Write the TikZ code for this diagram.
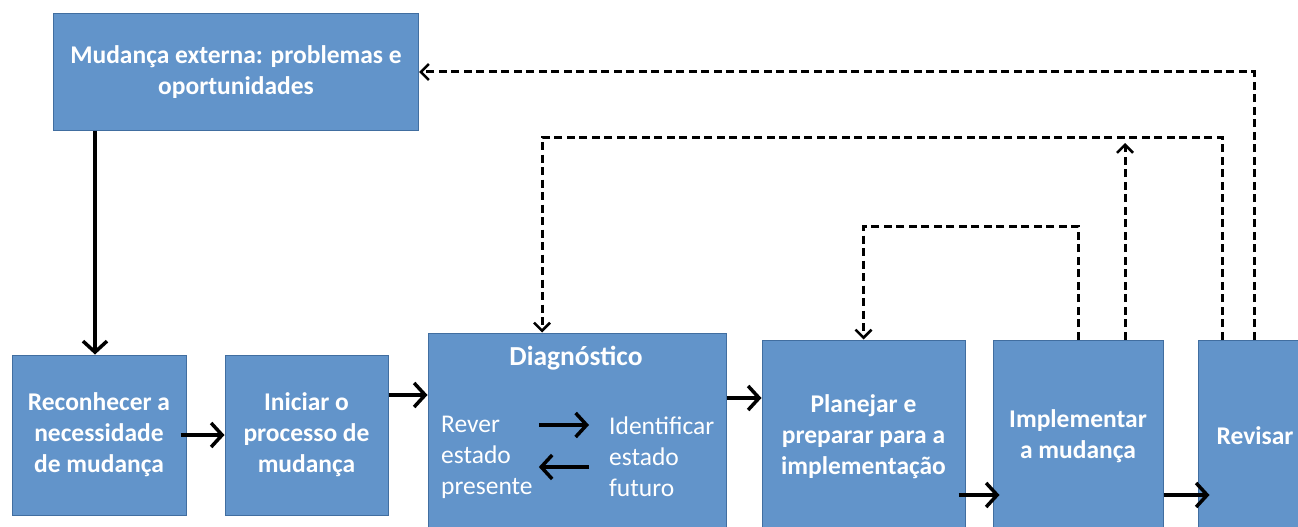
\documentclass[tikz,border=0pt]{standalone}
\usepackage{fontspec}
\setmainfont{Carlito}
\usetikzlibrary{arrows.meta}
\definecolor{boxfill}{RGB}{98,148,202}
\definecolor{boxline}{RGB}{65,110,160}
\tikzset{
  box/.style={draw=boxline, line width=1pt, fill=boxfill, text=white, font=\bfseries\fontsize{25.5}{31}\selectfont, align=center, inner sep=0pt},
  boxtext/.style={text=white, font=\bfseries\fontsize{25.5}{31}\selectfont, align=center, inner sep=0pt},
  inner/.style={text=white, font=\fontsize{25.5}{31}\selectfont, align=left, inner sep=0pt, anchor=west},
  sarrow/.style={line width=3.5pt, -{Straight Barb[length=11pt,width=24pt,line width=3.5pt]}},
  darrow/.style={line width=3pt, dash pattern=on 8pt off 4.5pt, -{Straight Barb[length=8pt,width=16pt,line width=2.5pt]}}
}
\begin{document}
\begin{tikzpicture}[x=1pt,y=-1pt]
\clip (0,0) rectangle (1298,527);
\fill[white] (0,0) rectangle (1298,527);
% boxes
\node[box, minimum width=365pt, minimum height=116pt] (ext) at (236,72) {Mudança externa: problemas e\\oportunidades};
\node[box, minimum width=174pt, minimum height=160pt] (rec) at (99,435) {Reconhecer a\\necessidade\\de mudança};
\node[box, minimum width=163pt, minimum height=160pt] (ini) at (306.5,435) {Iniciar o\\processo de\\mudança};
\node[box, minimum width=298pt, minimum height=214pt] (diag) at (577,440) {};
\node[box, minimum width=203pt, minimum height=200pt] (plan) at (863.5,440) {};
\node[box, minimum width=170pt, minimum height=200pt] (impl) at (1078,440) {};
\node[box, minimum width=114pt, minimum height=200pt] (rev) at (1255,440) {};
% texts
\node[text=white, font=\bfseries\fontsize{27.5}{31}\selectfont, inner sep=0pt] (dtitle) at (576,358) {Diagnóstico};
\node[inner] (rever) at (441,457) {Rever\\estado\\presente};
\node[inner] (ident) at (609,457) {Identificar\\estado\\futuro};
\node[boxtext] (plant) at (863.5,437) {Planejar e\\preparar para a\\implementação};
\node[boxtext] (implt) at (1078,436) {Implementar\\a mudança};
\node[boxtext] (revt) at (1255,436) {Revisar};
% solid connectors
\draw[sarrow] (ext.south -| 95,0) -- (rec.north -| 95,0);
\draw[sarrow] ([xshift=-6pt]rec.east) -- (ini.west);
\draw[sarrow] (ini.east |- 0,395) -- (diag.west |- 0,395);
\draw[sarrow] (diag.east |- 0,398) -- (plan.west |- 0,398);
\draw[sarrow] ([xshift=-7pt]plan.east |- 0,495) -- ([xshift=7pt]impl.west |- 0,495);
\draw[sarrow] (impl.east |- 0,495) -- ([xshift=12pt]rev.west |- 0,495);
\draw[sarrow] ([xshift=6pt]rever.east |- 0,425) -- ([xshift=-20pt]ident.west |- 0,425);
\draw[sarrow] ([xshift=-20pt]ident.west |- 0,467) -- ([xshift=6pt]rever.east |- 0,467);
% dashed connectors
\coordinate (r1) at ([xshift=-1pt]rev.north);
\draw[darrow] (r1) |- (ext.east);
\coordinate (rv) at ([xshift=-33pt]rev.north);
\coordinate (dg) at ([xshift=-35pt]diag.north);
\draw[darrow] (rv) |- (dg |- 0,137) -- (dg);
\coordinate (im) at ([xshift=47pt]impl.north);
\draw[darrow] (im) -- (im |- 0,143);
\draw[darrow] (impl.north) |- (plan.north |- 0,226) -- (plan.north);
\end{tikzpicture}
\end{document}
